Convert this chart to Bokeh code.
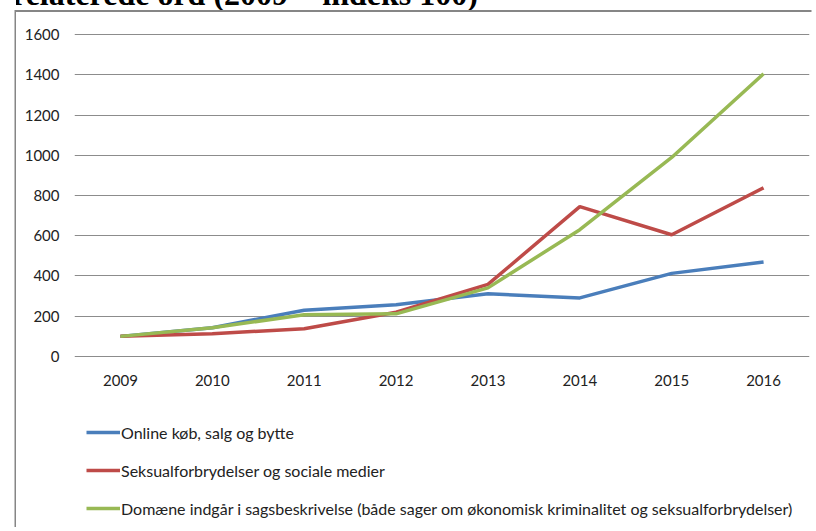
from bokeh.plotting import figure
from bokeh.layouts import column
from bokeh.models import ColumnDataSource, Range1d, FixedTicker, Legend, LegendItem, Div
from bokeh.embed import file_html
from bokeh.resources import INLINE

title_text = "relaterede ord (2009 = indeks 100)"
years = ["2009", "2010", "2011", "2012", "2013", "2014", "2015", "2016"]
online = [100, 143, 230, 257, 312, 291, 413, 469]
seksual = [100, 113, 138, 220, 358, 745, 605, 838]
domaene = [100, 143, 207, 212, 341, 630, 989, 1405]
y_ticks = [0, 200, 400, 600, 800, 1000, 1200, 1400, 1600]

names = [
    "Online køb, salg og bytte",
    "Seksualforbrydelser og sociale medier",
    "Domæne indgår i sagsbeskrivelse (både sager om økonomisk kriminalitet og seksualforbrydelser)",
]
colors = ["#4A7EBB", "#BE4B48", "#98B954"]
FONT = "Lato"

src = ColumnDataSource(dict(x=years, a=online, b=seksual, c=domaene))

# --- chart ---
p = figure(width=797, height=395, x_range=years, y_range=Range1d(-5, 1605),
           output_backend="svg", toolbar_location=None,
           min_border_left=58, min_border_right=4, min_border_top=21, min_border_bottom=50)
p.x_range.range_padding = 0
p.outline_line_color = None
p.background_fill_color = "white"
p.border_fill_color = "white"

for col, color in zip(["a", "b", "c"], colors):
    p.line("x", col, source=src, line_color=color, line_width=3.5)

p.xgrid.grid_line_color = None
p.ygrid.grid_line_color = "#8c8c8c"
p.ygrid.grid_line_width = 1
p.yaxis.ticker = FixedTicker(ticks=y_ticks)

for ax in (p.xaxis[0], p.yaxis[0]):
    ax.axis_line_color = None
    ax.major_tick_line_color = None
    ax.minor_tick_line_color = None
    ax.major_tick_out = 0
    ax.major_tick_in = 0
    ax.major_label_text_font = FONT
    ax.major_label_text_font_size = "15px"
    ax.major_label_text_color = "#222222"
p.yaxis.major_label_standoff = 15
p.xaxis.major_label_standoff = 17

# --- legend panel (series drawn off-view, used only for legend glyphs) ---
q = figure(width=797, height=122, x_range=years, y_range=Range1d(5000, 6000),
           output_backend="svg", toolbar_location=None,
           x_axis_location=None, y_axis_location=None,
           min_border_left=0, min_border_right=0, min_border_top=0, min_border_bottom=0)
q.outline_line_color = None
q.grid.visible = False
q.border_fill_color = "white"
items = []
for col, name, color in zip(["a", "b", "c"], names, colors):
    r = q.line("x", col, source=src, line_color=color, line_width=3.5)
    items.append(LegendItem(label=name, renderers=[r]))
legend = Legend(items=items, location=(12, 11), orientation="vertical",
                label_text_font=FONT, label_text_font_size="16px", label_text_color="#222222",
                glyph_width=34, glyph_height=20, label_height=20, label_standoff=1,
                spacing=18, padding=0, margin=0, border_line_color=None,
                background_fill_alpha=0)
q.add_layout(legend, "center")

title = Div(text=f'<div style="font-family: \'Liberation Serif\'; font-weight: bold; '
                 f'font-size: 32px; line-height: 32px; position: relative; top: -22px; '
                 f'left: -4px; white-space: nowrap; color: #000;">{title_text}</div>',
            width=797, height=12, margin=0,
            styles={"overflow": "hidden"})

chart = column(p, q, spacing=0, styles={"box-shadow": "-1.5px -2px 0 0 #868686"})
layout = column(title, chart, spacing=0,
                styles={"position": "relative", "left": "16px"})

open("out.html", "w").write(file_html(layout, INLINE))
